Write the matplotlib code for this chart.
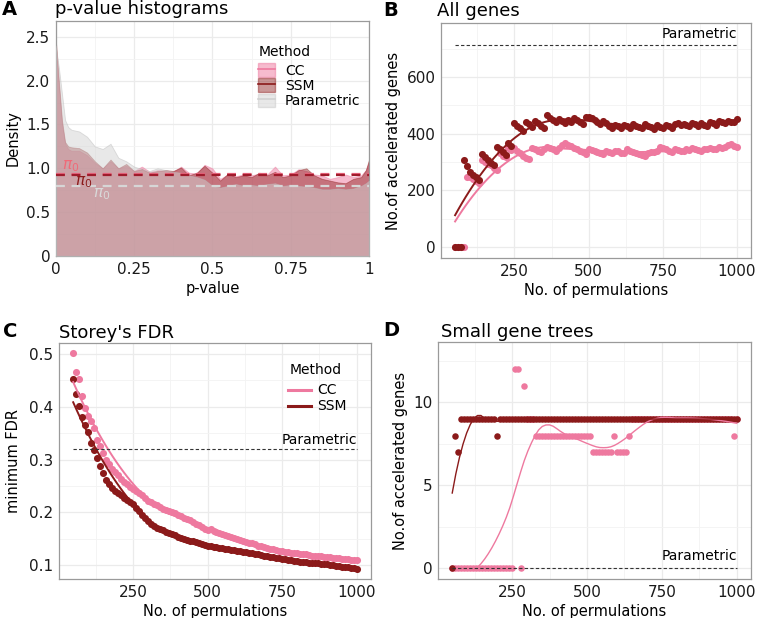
import numpy as np
import matplotlib
matplotlib.use('Agg')
import matplotlib.pyplot as plt
from matplotlib.patches import Patch
from matplotlib.lines import Line2D

plt.rcParams['font.family'] = ['DejaVu Sans']

# ---------------- data ----------------
# Panel A: p-value density curves
pval_grid = [0, 0.01, 0.02, 0.03, 0.04, 0.05, 0.075, 0.1, 0.125, 0.15, 0.175, 0.2,
             0.225, 0.25, 0.275, 0.3, 0.325, 0.35, 0.375, 0.4, 0.425, 0.45, 0.475,
             0.5, 0.525, 0.55, 0.575, 0.6, 0.625, 0.65, 0.675, 0.7, 0.725, 0.75,
             0.775, 0.8, 0.825, 0.85, 0.875, 0.9, 0.925, 0.95, 0.975, 0.99, 1.0]
dens_cc = [2.40, 1.95, 1.50, 1.28, 1.22, 1.20, 1.20, 1.15, 1.06, 1.00, 1.08, 1.00,
           1.03, 0.97, 1.02, 0.96, 0.98, 0.97, 0.96, 1.02, 0.95, 0.94, 1.04,
           1.00, 0.88, 0.93, 0.91, 0.93, 0.92, 0.94, 0.93, 1.02, 0.92, 0.93,
           0.99, 0.97, 0.93, 0.92, 0.88, 0.90, 0.93, 0.90, 0.92, 0.98, 1.08]
dens_ssm = [2.48, 2.00, 1.55, 1.30, 1.25, 1.24, 1.23, 1.18, 1.08, 1.00, 1.10, 1.00,
            1.05, 0.97, 0.99, 0.95, 0.97, 0.98, 0.97, 1.01, 0.92, 0.95, 1.03,
            0.95, 0.86, 0.94, 0.90, 0.92, 0.90, 0.95, 0.92, 0.96, 0.90, 0.92,
            0.98, 1.00, 0.92, 0.88, 0.86, 0.84, 0.83, 0.88, 0.90, 0.98, 1.10]
dens_param = [2.40, 2.15, 1.85, 1.55, 1.47, 1.44, 1.42, 1.36, 1.25, 1.22, 1.28, 1.12,
              1.08, 1.02, 0.99, 0.97, 1.00, 0.98, 0.96, 0.95, 0.92, 0.90, 0.87,
              0.80, 0.78, 0.80, 0.82, 0.80, 0.81, 0.80, 0.82, 0.83, 0.80, 0.81,
              0.80, 0.79, 0.78, 0.76, 0.76, 0.77, 0.76, 0.77, 0.80, 0.83, 0.86]
pi0_cc, pi0_ssm, pi0_param = 0.93, 0.92, 0.80

# Panels B-D: number of permutations
n_perm = list(range(50, 1001, 10))

all_cc = [0, 0, 0, 0, 248, 245, 240, 232, 226, 305, 300, 294,
          288, 278, 272, 330, 322, 316, 348, 342, 350, 340, 330, 322,
          315, 312, 350, 344, 340, 336, 345, 352, 348, 344, 340, 350,
          360, 365, 360, 355, 348, 344, 340, 334, 328, 345, 342, 338,
          334, 330, 328, 338, 335, 332, 340, 337, 333, 330, 345, 340,
          336, 332, 328, 325, 322, 332, 336, 334, 338, 352, 348, 344,
          340, 336, 346, 342, 340, 338, 345, 342, 348, 345, 342, 340,
          346, 344, 350, 347, 344, 352, 350, 354, 358, 362, 356, 354]
all_ssm = [0, 0, 0, 308, 287, 266, 255, 245, 236, 328, 318, 305,
           296, 290, 354, 345, 335, 325, 366, 355, 436, 425, 418, 410,
           442, 432, 422, 445, 436, 428, 420, 466, 456, 448, 440, 452,
           445, 438, 448, 440, 455, 448, 440, 432, 458, 460, 455, 448,
           440, 432, 445, 438, 428, 420, 430, 425, 418, 430, 425, 420,
           435, 428, 422, 418, 432, 428, 422, 416, 430, 424, 418, 430,
           425, 420, 432, 436, 430, 434, 430, 426, 438, 432, 428, 436,
           430, 426, 440, 436, 430, 445, 440, 436, 446, 440, 442, 452]
all_param = 713

fdr_cc = [0.502, 0.466, 0.453, 0.421, 0.398, 0.382, 0.373, 0.359, 0.338, 0.326, 0.313, 0.300,
          0.291, 0.283, 0.276, 0.270, 0.264, 0.258, 0.253, 0.248, 0.244, 0.240, 0.236, 0.232,
          0.227, 0.222, 0.219, 0.216, 0.213, 0.210, 0.207, 0.205, 0.203, 0.200, 0.198, 0.195,
          0.193, 0.190, 0.187, 0.185, 0.181, 0.178, 0.175, 0.172, 0.169, 0.167, 0.168, 0.165,
          0.163, 0.161, 0.159, 0.157, 0.155, 0.153, 0.151, 0.149, 0.147, 0.146, 0.144, 0.142,
          0.141, 0.139, 0.137, 0.136, 0.134, 0.132, 0.131, 0.130, 0.128, 0.127, 0.126, 0.125,
          0.124, 0.123, 0.122, 0.122, 0.121, 0.120, 0.120, 0.119, 0.118, 0.118, 0.117, 0.117,
          0.116, 0.116, 0.115, 0.114, 0.114, 0.113, 0.112, 0.112, 0.111, 0.110, 0.110, 0.109]
fdr_ssm = [0.452, 0.425, 0.401, 0.381, 0.366, 0.353, 0.332, 0.319, 0.302, 0.287, 0.274, 0.262,
           0.253, 0.246, 0.241, 0.236, 0.232, 0.228, 0.223, 0.219, 0.215, 0.209, 0.202, 0.195,
           0.189, 0.183, 0.178, 0.174, 0.171, 0.168, 0.166, 0.163, 0.161, 0.158, 0.156, 0.154,
           0.152, 0.150, 0.148, 0.146, 0.145, 0.143, 0.141, 0.139, 0.138, 0.137, 0.136, 0.135,
           0.134, 0.133, 0.132, 0.131, 0.130, 0.129, 0.128, 0.127, 0.126, 0.125, 0.124, 0.123,
           0.122, 0.121, 0.120, 0.119, 0.118, 0.117, 0.116, 0.115, 0.114, 0.113, 0.112, 0.111,
           0.110, 0.109, 0.108, 0.107, 0.106, 0.106, 0.105, 0.104, 0.104, 0.103, 0.103, 0.102,
           0.102, 0.101, 0.100, 0.100, 0.099, 0.098, 0.097, 0.096, 0.096, 0.095, 0.094, 0.093]
fdr_param = 0.32

small_cc = [0, 0, 0, 0, 0, 0, 0, 0, 0, 0, 0, 0,
            0, 0, 0, 0, 0, 0, 0, 0, 0, 12, 12, 0,
            11, 9, 9, 9, 8, 8, 8, 8, 8, 8, 8, 8,
            8, 8, 8, 8, 8, 8, 8, 8, 8, 8, 8, 7,
            7, 7, 7, 7, 7, 7, 8, 7, 7, 7, 7, 8,
            9, 9, 9, 9, 9, 9, 9, 9, 9, 9, 9, 9,
            9, 9, 9, 9, 9, 9, 9, 9, 9, 9, 9, 9,
            9, 9, 9, 9, 9, 9, 9, 9, 9, 9, 8, 9]
small_ssm = [0, 8, 7, 9, 9, 9, 9, 9, 9, 9, 9, 9,
             9, 9, 9, 8, 9, 9, 9, 9, 9, 9, 9, 9,
             9, 9, 9, 9, 9, 9, 9, 9, 9, 9, 9, 9,
             9, 9, 9, 9, 9, 9, 9, 9, 9, 9, 9, 9,
             9, 9, 9, 9, 9, 9, 9, 9, 9, 9, 9, 9,
             9, 9, 9, 9, 9, 9, 9, 9, 9, 9, 9, 9,
             9, 9, 9, 9, 9, 9, 9, 9, 9, 9, 9, 9,
             9, 9, 9, 9, 9, 9, 9, 9, 9, 9, 9, 9]
small_param = 0
small_limits = (0, 13)

# ---------------- style ----------------
PINK = '#EE799F'
DARK = '#8B1A1A'
GRAY = '#D3D3D3'
W, H = 758, 618
PT = 26  # marker area


def loess(x, y, span, xs):
    x = np.asarray(x, float)
    y = np.asarray(y, float)
    n = len(x)
    q = max(int(np.floor(n * span)), 3)
    out = []
    for x0 in xs:
        d = np.abs(x - x0)
        h = np.sort(d)[q - 1]
        u = np.clip(d / h, 0, 1)
        w = (1 - u ** 3) ** 3
        X = np.vstack([np.ones(n), x - x0, (x - x0) ** 2]).T
        sw = np.sqrt(w)
        beta = np.linalg.lstsq(X * sw[:, None], y * sw, rcond=None)[0]
        out.append(beta[0])
    return np.array(out)


def px_axes(l, t, r, b):
    return [l / W, 1 - b / H, (r - l) / W, (b - t) / H]


def style(ax, xmaj, xmin, ymaj, ymin, xlabels=None, ylabels=None):
    ax.set_xticks(xmaj)
    ax.set_xticks(xmin, minor=True)
    ax.set_yticks(ymaj)
    ax.set_yticks(ymin, minor=True)
    if xlabels is not None:
        ax.set_xticklabels(xlabels)
    if ylabels is not None:
        ax.set_yticklabels(ylabels)
    ax.grid(which='major', color='#EBEBEB', lw=0.9)
    ax.grid(which='minor', color='#F3F3F3', lw=0.6)
    ax.set_axisbelow(True)
    ax.tick_params(which='both', length=0, labelsize=11, pad=4, colors='#1a1a1a')
    for s in ax.spines.values():
        s.set_color('#9a9a9a')
        s.set_linewidth(0.9)


fig = plt.figure(figsize=(W / 100, H / 100), dpi=100)
xs = np.linspace(50, 1000, 80)

# ---------------- Panel A ----------------
axA = fig.add_axes(px_axes(55.7, 21, 369, 256))
pg = np.array(pval_grid)
axA.fill_between(pg, 0, dens_cc, facecolor=PINK, alpha=0.5, edgecolor=PINK, lw=0.6, zorder=1)
axA.fill_between(pg, 0, dens_ssm, facecolor=DARK, alpha=0.45, edgecolor=DARK, lw=0.6, zorder=2)
axA.fill_between(pg, 0, dens_param, facecolor=GRAY, alpha=0.5, edgecolor='#BDBDBD', lw=0.6, zorder=3)
axA.axhline(pi0_cc, color='#E8667F', lw=1.6, ls=(0, (4, 3)), zorder=4)
axA.axhline(pi0_ssm, color='#A01C2C', lw=1.6, ls=(0, (4, 3)), zorder=4)
axA.axhline(pi0_param, color='#D6D6D6', lw=1.6, ls=(0, (4, 3)), zorder=4)
axA.text(0.048, pi0_cc + 0.1, r'$\pi_0$', color='#F06A78', fontsize=11, ha='center', va='center', zorder=5)
axA.text(0.088, pi0_ssm - 0.08, r'$\pi_0$', color=DARK, fontsize=11, ha='center', va='center', zorder=5)
axA.text(0.147, pi0_param - 0.1, r'$\pi_0$', color='#D9D9D9', fontsize=11, ha='center', va='center', zorder=5)
axA.set_xlim(0, 1)
axA.set_ylim(0, 2.68)
style(axA, [0, 0.25, 0.5, 0.75, 1], [0.125, 0.375, 0.625, 0.875],
      [0, 0.5, 1.0, 1.5, 2.0, 2.5], [0.25, 0.75, 1.25, 1.75, 2.25],
      xlabels=['0', '0.25', '0.5', '0.75', '1'],
      ylabels=['0', '0.5', '1.0', '1.5', '2.0', '2.5'])
axA.set_xlabel('p-value', fontsize=10.5, labelpad=3)
axA.set_ylabel('Density', fontsize=10.5, labelpad=4)
hA = [(Patch(facecolor=PINK, alpha=0.5, edgecolor=PINK), Line2D([], [], color=PINK, lw=1.2)),
      (Patch(facecolor=DARK, alpha=0.45, edgecolor=DARK), Line2D([], [], color=DARK, lw=1.2)),
      (Patch(facecolor=GRAY, alpha=0.5, edgecolor='#C8C8C8'), Line2D([], [], color='#D0D0D0', lw=1.2))]
fig.text(259 / W, 1 - 52 / H, 'Method', fontsize=10, ha='left', va='center')
fig.legend(hA, ['CC', 'SSM', 'Parametric'], loc='upper left',
           bbox_to_anchor=(257 / W, 1 - 62 / H), frameon=False, fontsize=10,
           handlelength=1.2, handleheight=1.1, labelspacing=0.05,
           handletextpad=0.7, borderpad=0.1, borderaxespad=0)

# ---------------- Panel B ----------------
axB = fig.add_axes(px_axes(441, 23, 751, 258))
axB.scatter(n_perm, all_cc, s=PT, color=PINK, lw=0, zorder=2)
axB.scatter(n_perm, all_ssm, s=PT, color=DARK, lw=0, zorder=2)
axB.plot(xs, loess(n_perm, all_cc, 0.75, xs), color=PINK, lw=1.4, zorder=3)
axB.plot(xs, loess(n_perm, all_ssm, 0.75, xs), color=DARK, lw=1.4, zorder=3)
axB.plot([50, 1000], [all_param, all_param], color='#333333', lw=0.8, ls=(0, (3, 2)), zorder=3)
axB.text(1000, 750, 'Parametric', fontsize=10, ha='right', va='center')
axB.set_xlim(2.5, 1047.5)
axB.set_ylim(-39, 790)
style(axB, [250, 500, 750, 1000], [125, 375, 625, 875], [0, 200, 400, 600], [100, 300, 500, 700])
axB.set_xlabel('No. of permulations', fontsize=10.5, labelpad=3)
axB.set_ylabel('No.of accelerated genes', fontsize=10.5, labelpad=4)

# ---------------- Panel C ----------------
axC = fig.add_axes(px_axes(59, 343, 371, 579))
axC.scatter(n_perm, fdr_cc, s=PT, color=PINK, lw=0, zorder=2)
axC.scatter(n_perm, fdr_ssm, s=PT, color=DARK, lw=0, zorder=2)
axC.plot(xs, loess(n_perm, fdr_cc, 0.75, xs), color=PINK, lw=1.4, zorder=3)
axC.plot(xs, loess(n_perm, fdr_ssm, 0.75, xs), color=DARK, lw=1.4, zorder=3)
axC.plot([50, 1000], [fdr_param, fdr_param], color='#333333', lw=0.8, ls=(0, (3, 2)), zorder=3)
axC.text(1000, fdr_param + 0.018, 'Parametric', fontsize=10, ha='right', va='center')
axC.set_xlim(2.5, 1047.5)
axC.set_ylim(0.0735, 0.521)
style(axC, [250, 500, 750, 1000], [125, 375, 625, 875], [0.1, 0.2, 0.3, 0.4, 0.5],
      [0.15, 0.25, 0.35, 0.45], ylabels=['0.1', '0.2', '0.3', '0.4', '0.5'])
axC.set_xlabel('No. of permulations', fontsize=10.5, labelpad=3)
axC.set_ylabel('minimum FDR', fontsize=10.5, labelpad=6)
hC = [Line2D([], [], color=PINK, lw=2.2), Line2D([], [], color=DARK, lw=2.2)]
fig.text(290 / W, 1 - 370 / H, 'Method', fontsize=10, ha='left', va='center')
fig.legend(hC, ['CC', 'SSM'], loc='upper left',
           bbox_to_anchor=(287 / W, 1 - 382 / H), frameon=False, fontsize=10,
           handlelength=1.6, labelspacing=0.15,
           handletextpad=0.5, borderpad=0.1, borderaxespad=0)

# ---------------- Panel D ----------------
axD = fig.add_axes(px_axes(438, 342, 751, 579))
axD.scatter(n_perm, small_cc, s=PT - 4, color=PINK, lw=0, zorder=2)
axD.scatter(n_perm, small_ssm, s=PT - 4, color=DARK, lw=0, zorder=2)
for ydat, sp, c in [(small_cc, 0.45, PINK), (small_ssm, 0.25, DARK)]:
    fit = loess(n_perm, ydat, sp, xs)
    fit[(fit < small_limits[0]) | (fit > small_limits[1])] = np.nan  # out-of-limits values dropped
    axD.plot(xs, fit, color=c, lw=1.0, zorder=3)
axD.plot([50, 1000], [small_param, small_param], color='#333333', lw=0.8, ls=(0, (3, 2)), zorder=3)
axD.text(1000, 0.75, 'Parametric', fontsize=10, ha='right', va='center')
axD.set_xlim(2.5, 1047.5)
axD.set_ylim(small_limits[0] - 0.65, small_limits[1] + 0.65)
style(axD, [250, 500, 750, 1000], [125, 375, 625, 875], [0, 5, 10], [2.5, 7.5, 12.5])
axD.set_xlabel('No. of permulations', fontsize=10.5, labelpad=3)
axD.set_ylabel('No.of accelerated genes', fontsize=10.5, labelpad=4)

# ---------------- titles & panel letters ----------------
fig.text(55 / W, 1 - 13.5 / H, 'p-value histograms', fontsize=13, ha='left', va='baseline')
fig.text(437 / W, 1 - 16.5 / H, 'All genes', fontsize=13, ha='left', va='baseline')
fig.text(59 / W, 1 - 338 / H, "Storey's FDR", fontsize=13, ha='left', va='baseline')
fig.text(441 / W, 1 - 336.5 / H, 'Small gene trees', fontsize=13, ha='left', va='baseline')
for lab, x, y in [('A', 2, 9.5), ('B', 383, 10.5), ('C', 3, 332), ('D', 383, 331)]:
    fig.text(x / W, 1 - y / H, lab, fontsize=14, fontweight='bold', ha='left', va='center')

fig.savefig('out.png', dpi=100)
